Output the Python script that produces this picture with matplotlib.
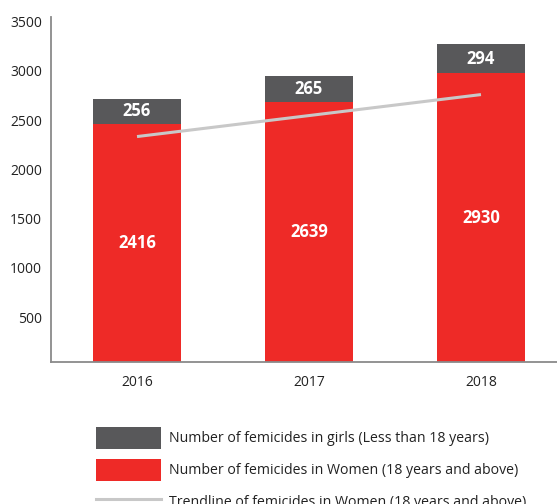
import matplotlib
matplotlib.use('Agg')
import matplotlib.pyplot as plt
import matplotlib.transforms as mtransforms
from matplotlib.patches import Patch
from matplotlib.lines import Line2D

plt.rcParams['font.family'] = ['Open Sans', 'DejaVu Sans']

years = ['2016', '2017', '2018']
women = [2416, 2639, 2930]  # 18 years and above
girls = [256, 265, 294]  # less than 18 years
# trendline as drawn in the picture (start and end)
trend_x = [0, 2]
trend_y = [2287, 2713]
y_ticks = [500, 1000, 1500, 2000, 2500, 3000, 3500]

red = '#ee2a27'
grey = '#58585a'
trend_color = '#c8c8c8'

fig = plt.figure(figsize=(5.57, 5.04), dpi=100)
ax = fig.add_axes([50.5 / 557, 1 - 362 / 504, 1 - 50.5 / 557, (362 - 17) / 504])

x = range(len(years))
ax.bar(x, women, width=0.512, color=red, zorder=2)
ax.bar(x, girls, width=0.512, bottom=women, color=grey, zorder=2)
ax.plot(trend_x, trend_y, color=trend_color, lw=2.2, zorder=3, solid_capstyle='butt')

# value labels in the middle of each segment
for i in x:
    ax.text(i, women[i] / 2, str(women[i]), ha='center', va='center',
            color='white', fontsize=12, fontweight='bold', zorder=4)
    ax.text(i, women[i] + girls[i] / 2, str(girls[i]), ha='center', va='center',
            color='white', fontsize=12, fontweight='bold', zorder=4)

ax.set_xlim(-0.503, 2.442)
ax.set_ylim(0, 3500)
ax.set_xticks(list(x))
ax.set_xticklabels(years)
ax.set_yticks(y_ticks)
ax.tick_params(axis='both', length=0, labelsize=10, colors='#222222')
ax.tick_params(axis='y', pad=6)
ax.tick_params(axis='x', pad=9)

# the y labels sit a little below their tick positions in the original
offset = mtransforms.ScaledTranslation(0, -4.5 / 100, fig.dpi_scale_trans)
for lab in ax.get_yticklabels():
    lab.set_transform(lab.get_transform() + offset)

for side in ['top', 'right']:
    ax.spines[side].set_visible(False)
for side in ['left', 'bottom']:
    ax.spines[side].set_color('#8a8a8a')
    ax.spines[side].set_linewidth(1.3)

handles = [
    Patch(facecolor=grey, edgecolor='none'),
    Patch(facecolor=red, edgecolor='none'),
    Line2D([0], [0], color=trend_color, lw=2.2),
]
labels = [
    'Number of femicides in girls (Less than 18 years)',
    'Number of femicides in Women (18 years and above)',
    'Trendline of femicides in Women (18 years and above)',
]
# legend sits low, the last row is cut by the figure edge like in the original
fig.legend(handles, labels, loc='upper left', bbox_to_anchor=(96 / 557, 1 - 427 / 504),
           frameon=False, fontsize=10.2, handlelength=4.59, handleheight=2.01,
           handletextpad=0.56, labelspacing=0.7, borderpad=0, borderaxespad=0,
           labelcolor='#222222')

fig.savefig('out.png', dpi=100)
